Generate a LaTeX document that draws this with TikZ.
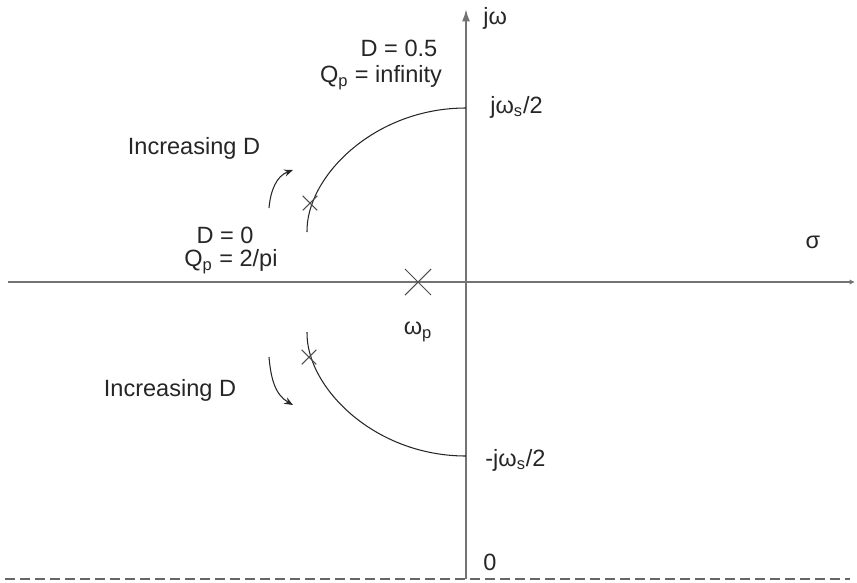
\documentclass[tikz,border=0pt]{standalone}
\usepackage{fontspec}
\setmainfont{Liberation Sans}
\usetikzlibrary{arrows.meta,shapes.misc}
\newcommand{\fleche}[0]{-{Stealth[length=5pt,width=4pt]}}
\tikzset{
	axe/.style={draw=black!55, line width=1.1pt},
	lieu/.style={draw=black!85, line width=0.6pt},
	etiq/.style={font=\fontsize{13.4}{16}\selectfont, text=black!85, inner sep=0pt},
	pole/.style={cross out, draw=black!70, line width=0.6pt, inner sep=0pt, minimum size=#1}
}

\begin{document}
\begin{tikzpicture}[x=0.02cm, y=0.02cm]
	\useasboundingbox (-466,-300) rectangle (391,282);
%Axes
	\coordinate (gauche) at (-458,0);
	\coordinate (droite) at (389,0);
	\coordinate (bas) at (0,-297);
	\coordinate (haut) at (0,273);
	\coordinate (tiretg) at (-461,-297);
	\coordinate (tiretd) at (384,-297);
	\draw[axe,-{Latex[length=3pt,width=3pt]}] (gauche) -- (droite);
	\draw[axe,-{Latex[length=7pt,width=4.5pt]}] (bas) -- (haut);
	\draw[black!60, line width=0.9pt, dash pattern=on 0.2cm off 0.1cm] (tiretg) -- (tiretd);
%Root loci
	\coordinate (ws) at (0,174);
	\coordinate (mws) at (0,-174);
	\coordinate (dh) at (-159,50);
	\coordinate (db) at (-159,-50);
	\draw[lieu] (ws) .. controls (-92,174) and (-160,105) .. (dh);
	\draw[lieu] (mws) .. controls (-92,-174) and (-160,-105) .. (db);
	\node[pole=0.5cm] (wp) at (-48,0) {};
	\node[pole=0.27cm] (xh) at (-156,79) {};
	\node[pole=0.27cm] (xb) at (-157,-75) {};
%Direction of D
	\coordinate (fh0) at (-197,74);
	\coordinate (fh1) at (-173,112);
	\coordinate (fb0) at (-197,-75);
	\coordinate (fb1) at (-173,-123);
	\draw[lieu,\fleche] (fh0) to[out=85,in=200] (fh1);
	\draw[lieu,\fleche] (fb0) to[out=-85,in=150] (fb1);
%Labels
	\node[etiq, anchor=west] (jw) at (17,264) {jω};
	\node[etiq] (dmax) at (-67,234) {D = 0.5};
	\node[etiq] (qinf) at (-85,204) {Q\textsubscript{p} = infinity};
	\node[etiq, anchor=west] (jws) at (24,175) {jω\textsubscript{s}/2};
	\node[etiq] (inch) at (-272,134) {Increasing D};
	\node[etiq] (dmin) at (-241,47) {D = 0};
	\node[etiq] (qmin) at (-235,20) {Q\textsubscript{p} = 2/pi};
	\node[etiq] (sigma) at (347,40) {σ};
	\node[etiq] (wpl) at (-48,-50) {ω\textsubscript{p}};
	\node[etiq] (incb) at (-296,-108) {Increasing D};
	\node[etiq, anchor=west] (mjws) at (19,-178) {-jω\textsubscript{s}/2};
	\node[etiq] (zero) at (24,-280) {0};
\end{tikzpicture}
\end{document}
